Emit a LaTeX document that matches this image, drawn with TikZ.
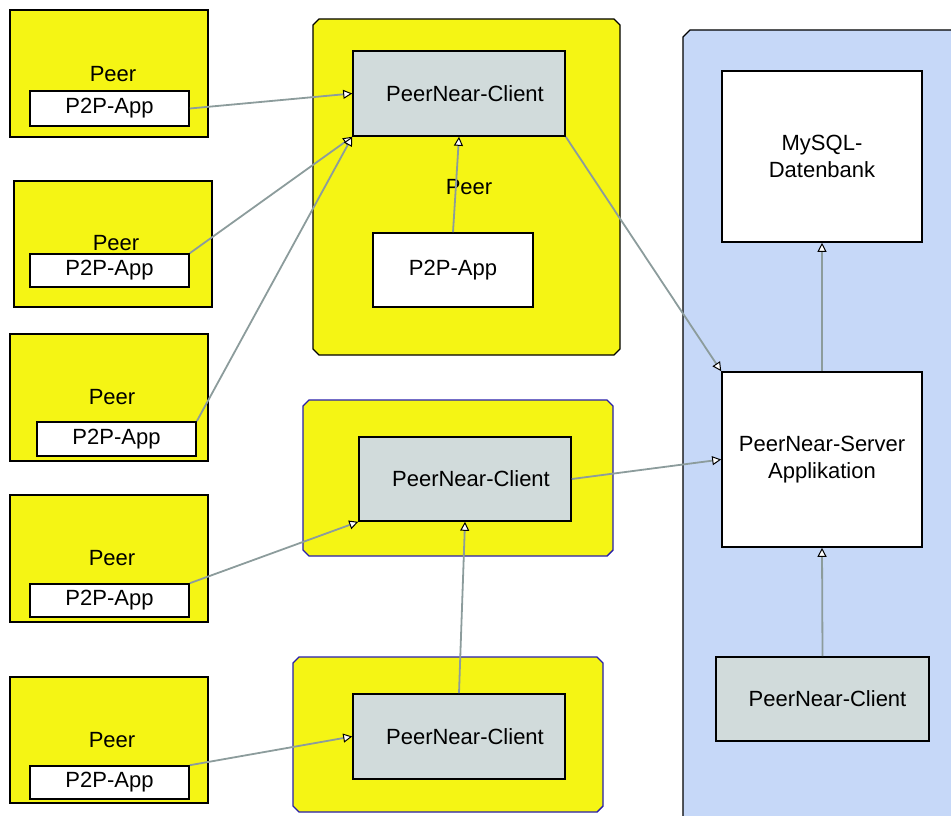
\documentclass[tikz,border=0pt]{standalone}
\usepackage{fontspec}
\setmainfont{Liberation Sans}
\usetikzlibrary{arrows.meta}

\definecolor{peeryellow}{RGB}{245,245,20}
\definecolor{clientgray}{RGB}{209,219,219}
\definecolor{serverblue}{RGB}{198,216,248}
\definecolor{groupborder}{RGB}{40,30,170}
\definecolor{linkgray}{RGB}{140,156,156}

\tikzset{
  box/.style={draw=black, line width=1.6pt, inner sep=0pt, font=\fontsize{22}{27}\selectfont, align=center},
  peerbox/.style={box, fill=peeryellow},
  appbox/.style={box, fill=white},
  clientbox/.style={box, fill=clientgray},
  area/.style={inner sep=0pt, outer sep=0pt},
  groupline/.style={draw=black, line width=1.4pt, fill=peeryellow},
  label/.style={inner sep=0pt, font=\fontsize{22}{27}\selectfont},
  link/.style={draw=linkgray, line width=1.8pt,
    -{Triangle[fill=white, color=black, length=9pt, width=9pt, line width=1pt]}}
}

% outline of a node with all four corners cut off
\newcommand\cutbox[2]{%
  \path[#2] ([xshift=6pt]#1.north west) -- ([xshift=-6pt]#1.north east)
    -- ([yshift=-6pt]#1.north east) -- ([yshift=6pt]#1.south east)
    -- ([xshift=-6pt]#1.south east) -- ([xshift=6pt]#1.south west)
    -- ([yshift=6pt]#1.south west) -- ([yshift=-6pt]#1.north west) -- cycle;}

\begin{document}
\begin{tikzpicture}[x=1pt, y=-1pt]
\useasboundingbox (0,0) rectangle (951,816);

% server side background, running off the right and bottom edges
\node[area, minimum width=340pt, minimum height=860pt] (bg) at (853,460) {};
\path[groupline, fill=serverblue] ([xshift=7pt]bg.north west) -- (bg.north east)
  -- (bg.south east) -- (bg.south west) -- ([yshift=-7pt]bg.north west) -- cycle;

% single peers on the left
\node[peerbox, minimum width=198pt, minimum height=127pt] (p1) at (109,73.5) {};
\node[peerbox, minimum width=198pt, minimum height=126pt] (p2) at (113,244) {};
\node[peerbox, minimum width=198pt, minimum height=127pt] (p3) at (109,397.5) {};
\node[peerbox, minimum width=198pt, minimum height=127pt] (p4) at (109,558.5) {};
\node[peerbox, minimum width=198pt, minimum height=126pt] (p5) at (109,740) {};
\node[label] (l1) at (113,74) {Peer};
\node[label] (l2) at (116,243) {Peer};
\node[label] (l3) at (112,397) {Peer};
\node[label] (l4) at (112,558) {Peer};
\node[label] (l5) at (112,740) {Peer};
\node[appbox, minimum width=159pt, minimum height=35pt] (a1) at (109.5,108.5) {P2P-App};
\node[appbox, minimum width=159pt, minimum height=33pt] (a2) at (109.5,270.5) {P2P-App};
\node[appbox, minimum width=159pt, minimum height=34pt] (a3) at (116.5,439) {P2P-App};
\node[appbox, minimum width=159pt, minimum height=33pt] (a4) at (109.5,600.5) {P2P-App};
\node[appbox, minimum width=159pt, minimum height=33pt] (a5) at (109.5,782.5) {P2P-App};

% peer groups with a PeerNear client
\node[area, minimum width=307pt, minimum height=336pt] (g1) at (466.5,187) {};
\cutbox{g1}{groupline}
\node[clientbox, minimum width=212pt, minimum height=85pt] (c1) at (459,93.5) {\hspace{12pt}PeerNear-Client};
\node[label] (lg) at (469,187) {Peer};
\node[appbox, minimum width=160pt, minimum height=74pt] (ia) at (453,270) {P2P-App};

\node[area, minimum width=310pt, minimum height=156pt] (g2) at (458,478) {};
\cutbox{g2}{groupline, draw=groupborder}
\node[clientbox, minimum width=212pt, minimum height=84pt] (c2) at (465,479) {\hspace{12pt}PeerNear-Client};

\node[area, minimum width=310pt, minimum height=155pt] (g3) at (448,734.5) {};
\cutbox{g3}{groupline, draw=groupborder}
\node[clientbox, minimum width=212pt, minimum height=85pt] (c3) at (459,736.5) {\hspace{12pt}PeerNear-Client};

% server side
\node[appbox, minimum width=200pt, minimum height=171pt] (db) at (822,156.5) {MySQL-\\Datenbank};
\node[appbox, minimum width=200pt, minimum height=175pt] (srv) at (822,459.5) {PeerNear-Server\\Applikation};
\node[clientbox, minimum width=213pt, minimum height=84pt] (c4) at (822.5,699) {\hspace{10pt}PeerNear-Client};

% connections
\draw[link] (a1.east) -- (c1.west);
\draw[link] (a2.north east) -- (c1.south west);
\draw[link] (a3.north east) -- (c1.south west);
\draw[link] (ia.north) -- (c1.south);
\draw[link] (c1.south east) -- (srv.north west);
\draw[link] (a4.north east) -- (c2.south west);
\draw[link] (c2.east) -- (srv.west);
\draw[link] (c3.north) -- (c2.south);
\draw[link] (a5.north east) -- (c3.west);
\draw[link] (srv.north) -- (db.south);
\draw[link] (c4.north) -- (srv.south);
\end{tikzpicture}
\end{document}
